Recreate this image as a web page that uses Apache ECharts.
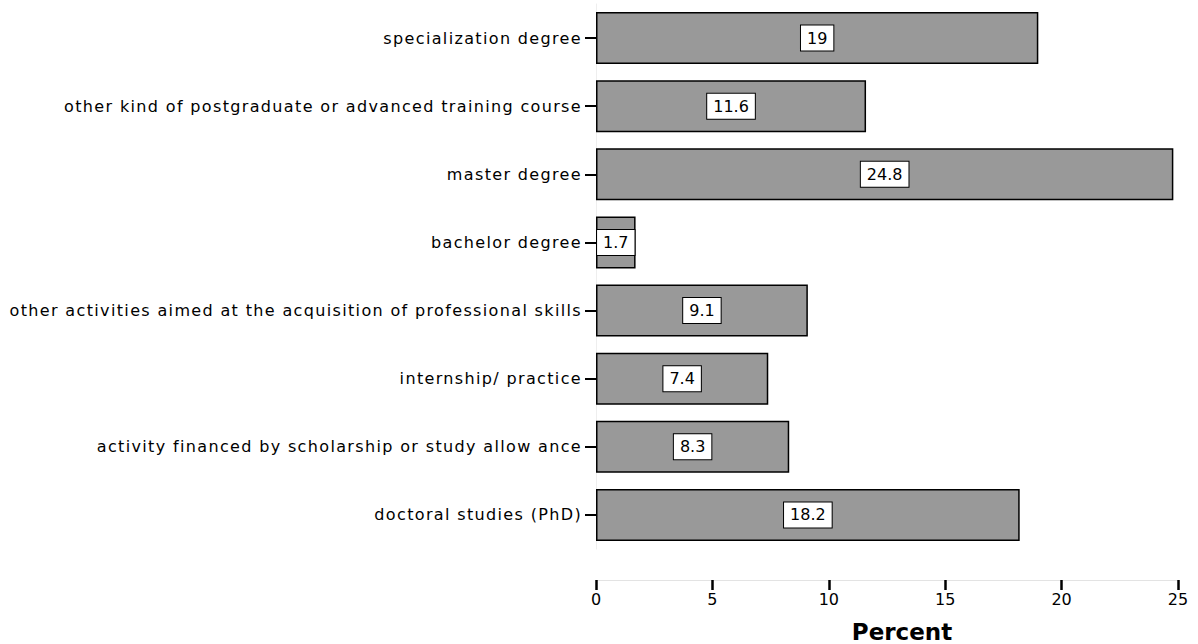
<!DOCTYPE html>
<html>
<head>
<meta charset="utf-8">
<script src="https://cdn.jsdelivr.net/npm/echarts@6/dist/echarts.min.js"></script>
<style>
html,body{margin:0;padding:0;background:#fff}
#c{width:1198px;height:644px}
#c svg text[text-anchor="end"]{letter-spacing:1.35px}
</style>
</head>
<body>
<div id="c"></div>
<script>
const categories = [
  "specialization degree",
  "other kind of postgraduate or advanced training course",
  "master degree",
  "bachelor degree",
  "other activities aimed at the acquisition of professional skills",
  "internship/ practice",
  "activity financed by scholarship or study allow ance",
  "doctoral studies (PhD)"
];
const percentValues = [19, 11.6, 24.8, 1.7, 9.1, 7.4, 8.3, 18.2];
const axisName = "Percent";

const chart = echarts.init(document.getElementById('c'), null, {renderer: 'svg'});
chart.setOption({
  animation: false,
  grid: {left: 596, right: 20, top: 4, bottom: 95, containLabel: false, outerBoundsMode: 'none'},
  xAxis: {
    type: 'value', min: 0, max: 25, interval: 5, offset: 31,
    name: axisName, nameLocation: 'middle', nameGap: 40,
    nameTextStyle: {fontFamily: 'DejaVu Sans', fontWeight: 'bold', fontSize: 23, color: '#000', padding: [0, 0, 0, 30]},
    axisLine: {show: true, lineStyle: {color: '#e3e3e3', width: 1}},
    axisTick: {show: true, inside: false, length: 10, lineStyle: {color: '#000', width: 2.5}},
    axisLabel: {margin: 11, fontFamily: 'DejaVu Sans', fontSize: 16, color: '#000'},
    splitLine: {show: false}
  },
  yAxis: {
    type: 'category', data: categories, inverse: true,
    axisLine: {show: true, lineStyle: {color: '#eeeeee', width: 1}},
    axisTick: {show: true, alignWithLabel: true, length: 11, lineStyle: {color: '#000', width: 2}},
    axisLabel: {margin: 14, fontFamily: 'DejaVu Sans', fontSize: 16, color: '#000'}
  },
  series: [{
    type: 'bar', data: percentValues, barWidth: 52,
    itemStyle: {color: '#999999', borderColor: '#000', borderWidth: 1.5},
    label: {
      show: true, position: 'inside', color: '#000',
      fontFamily: 'DejaVu Sans', fontSize: 16,
      backgroundColor: '#fff', borderColor: '#000', borderWidth: 1,
      padding: [5, 6, 4, 6]
    }
  }]
});
</script>
</body>
</html>
